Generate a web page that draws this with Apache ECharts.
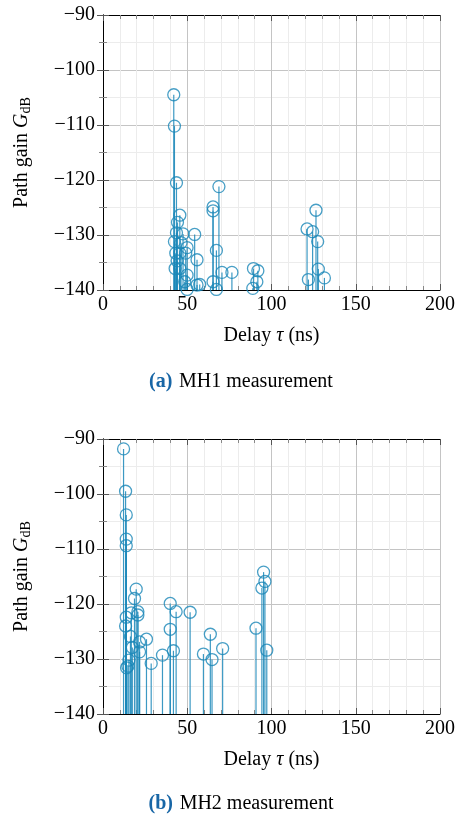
<!DOCTYPE html>
<html>
<head>
<meta charset="utf-8">
<script src="https://cdn.jsdelivr.net/npm/echarts@6/dist/echarts.min.js"></script>
<style>
  html, body { margin: 0; padding: 0; background: #fff; }
  #chart { width: 458px; height: 820px; }
</style>
</head>
<body>
<div id="chart"></div>
<script>
// MH1 measurement: delay (ns) and path gain (dB)
const mh1Delay = [42.0, 42.4, 43.6, 45.6, 44.2, 43.6, 47.5, 42.4, 46.3, 49.9, 43.2, 45.6, 49.1, 44.0, 42.8, 45.6, 49.9, 48.5, 49.9,
  54.4, 55.8, 55.8, 57.4, 65.3, 65.3, 68.8, 67.3, 65.3, 67.3, 70.6, 76.5, 89.3, 91.9, 91.3, 88.9,
  121.1, 124.4, 126.4, 127.4, 127.8, 121.9, 131.4];
const mh1Gain = [-104.5, -110.2, -120.5, -126.4, -127.7, -129.6, -129.8, -131.2, -131.4, -132.3, -133.3, -133.3, -133.3, -134.7, -136.1, -136.1, -137.3, -138.5, -139.9,
  -129.9, -134.5, -139.1, -139.0, -124.9, -125.6, -121.2, -132.8, -138.5, -139.9, -136.8, -136.8, -136.1, -136.5, -138.5, -139.7,
  -128.9, -129.4, -125.5, -131.2, -136.2, -138.1, -137.8];

// MH2 measurement
const mh2Delay = [12.2, 13.4, 13.8, 13.8, 13.8, 19.7, 18.7, 13.8, 16.8, 20.7, 20.7, 13.4, 16.3, 17.4, 21.7, 21.7, 25.8, 28.6, 15.4, 14.8, 14.0,
  35.3, 39.9, 39.9, 43.4, 41.8, 51.7, 59.6, 64.7, 63.7, 71.0, 90.8, 95.3, 96.1, 94.3, 97.2];
const mh2Gain = [-91.8, -99.5, -103.8, -108.2, -109.4, -117.3, -119.0, -122.4, -121.6, -121.4, -122.0, -124.0, -125.9, -127.9, -126.9, -128.7, -126.4, -130.8, -130.2, -131.3, -131.6,
  -129.3, -119.9, -124.6, -121.4, -128.5, -121.5, -129.1, -130.1, -125.5, -128.1, -124.4, -114.2, -115.9, -117.1, -128.4];

const xTicks = [0, 50, 100, 150, 200];
const yTicks = [-140, -130, -120, -110, -100, -90];

const captions = [["(a)", "MH1 measurement"], ["(b)", "MH2 measurement"]];

const FONT = "Liberation Serif";
const COLOR = "#1a87b8";
const BASE = -140;

const pairs = (xs, ys) => xs.map((x, i) => [x, ys[i]]);

let mychart = echarts.init(document.getElementById("chart"));

const grids = [
  { left: 103, top: 15, width: 338, height: 275 },
  { left: 103, top: 439, width: 338, height: 275 }
];

const xAxes = [];
const yAxes = [];
grids.forEach((g, i) => {
  // main bottom axis
  xAxes.push({
    gridIndex: i, type: "value", min: xTicks[0], max: xTicks[xTicks.length - 1], interval: 50,
    position: "bottom",
    name: "{n|Delay }{i|τ}{n| (ns)}", nameLocation: "middle", nameGap: 36,
    nameTextStyle: { rich: { n: { fontFamily: FONT, fontSize: 20, color: "#000" }, i: { fontFamily: FONT, fontSize: 20, fontStyle: "italic", color: "#000" } } },
    axisLine: { show: true, lineStyle: { color: "#000", width: 1 } },
    axisTick: { show: true, inside: true, length: 6, lineStyle: { color: "#555" } },
    minorTick: { show: true, splitNumber: 5, length: 4, lineStyle: { color: "#888" } },
    axisLabel: { fontFamily: FONT, fontSize: 20, color: "#000", margin: 5 },
    splitLine: { show: true, lineStyle: { color: "#c4c4c4", width: 1 } },
    minorSplitLine: { show: true, lineStyle: { color: "#ececec", width: 1 } }
  });
  // mirrored top axis
  xAxes.push({
    gridIndex: i, type: "value", min: 0, max: 200, interval: 50, position: "top",
    axisLine: { show: true, lineStyle: { color: "#000", width: 1 } },
    axisTick: { show: true, inside: true, length: 6, lineStyle: { color: "#555" } },
    minorTick: { show: true, splitNumber: 5, length: 4, lineStyle: { color: "#888" } },
    axisLabel: { show: false }, splitLine: { show: false }
  });
  yAxes.push({
    gridIndex: i, type: "value", min: yTicks[0], max: yTicks[yTicks.length - 1], interval: 10,
    position: "left",
    name: "{n|Path gain }{i|G}{s|dB}", nameLocation: "middle", nameGap: 70, nameRotate: 90,
    nameTextStyle: { rich: {
      n: { fontFamily: FONT, fontSize: 20, color: "#000" },
      i: { fontFamily: FONT, fontSize: 20, fontStyle: "italic", color: "#000" },
      s: { fontFamily: FONT, fontSize: 14, color: "#000", padding: [8, 0, 0, 0] }
    } },
    axisLine: { show: true, lineStyle: { color: "#000", width: 1 } },
    axisTick: { show: true, inside: true, length: 6, lineStyle: { color: "#555" } },
    minorTick: { show: true, splitNumber: 2, length: 4, lineStyle: { color: "#888" } },
    axisLabel: { fontFamily: FONT, fontSize: 20, color: "#000", margin: 8, formatter: v => String(v).replace("-", "\u2212") },
    splitLine: { show: true, lineStyle: { color: "#c4c4c4", width: 1 } },
    minorSplitLine: { show: true, lineStyle: { color: "#ececec", width: 1 } }
  });
  yAxes.push({
    gridIndex: i, type: "value", min: -140, max: -90, interval: 10, position: "right",
    axisLine: { show: true, lineStyle: { color: "#000", width: 1 } },
    axisTick: { show: true, inside: true, length: 6, lineStyle: { color: "#555" } },
    minorTick: { show: true, splitNumber: 2, length: 4, lineStyle: { color: "#888" } },
    axisLabel: { show: false }, splitLine: { show: false }
  });
});

function stemSeries(data, idx) {
  return {
    type: "custom",
    xAxisIndex: idx * 2, yAxisIndex: idx * 2,
    data: data,
    renderItem: (params, api) => {
      const top = api.coord([api.value(0), api.value(1)]);
      const bot = api.coord([api.value(0), BASE]);
      return {
        type: "line",
        shape: { x1: top[0], y1: top[1], x2: bot[0], y2: bot[1] },
        style: { stroke: COLOR, lineWidth: 1.2, opacity: 0.85 }
      };
    },
    z: 2
  };
}

function markerSeries(data, idx) {
  return {
    type: "scatter",
    xAxisIndex: idx * 2, yAxisIndex: idx * 2,
    data: data,
    symbol: "circle",
    symbolSize: 12,
    itemStyle: { color: "rgba(0,0,0,0)", borderColor: COLOR, borderWidth: 1.3 },
    clip: false,
    z: 3
  };
}

const sets = [pairs(mh1Delay, mh1Gain), pairs(mh2Delay, mh2Gain)];

mychart.setOption({
  animation: false,
  grid: grids,
  xAxis: xAxes,
  yAxis: yAxes,
  series: [
    stemSeries(sets[0], 0), markerSeries(sets[0], 0),
    stemSeries(sets[1], 1), markerSeries(sets[1], 1)
  ],
  graphic: captions.map((c, i) => ({
    type: "text",
    x: 241,
    y: i === 0 ? 382 : 804,
    style: {
      text: "{b|" + c[0] + "}  {n|" + c[1] + "}",
      align: "center",
      verticalAlign: "middle",
      rich: {
        b: { fontFamily: FONT, fontSize: 20, fontWeight: "bold", fill: "#1866a6" },
        n: { fontFamily: FONT, fontSize: 20, fill: "#000" }
      }
    }
  }))
});
window.addEventListener("resize", () => {
  mychart.resize();
});
</script>
</body>
</html>
